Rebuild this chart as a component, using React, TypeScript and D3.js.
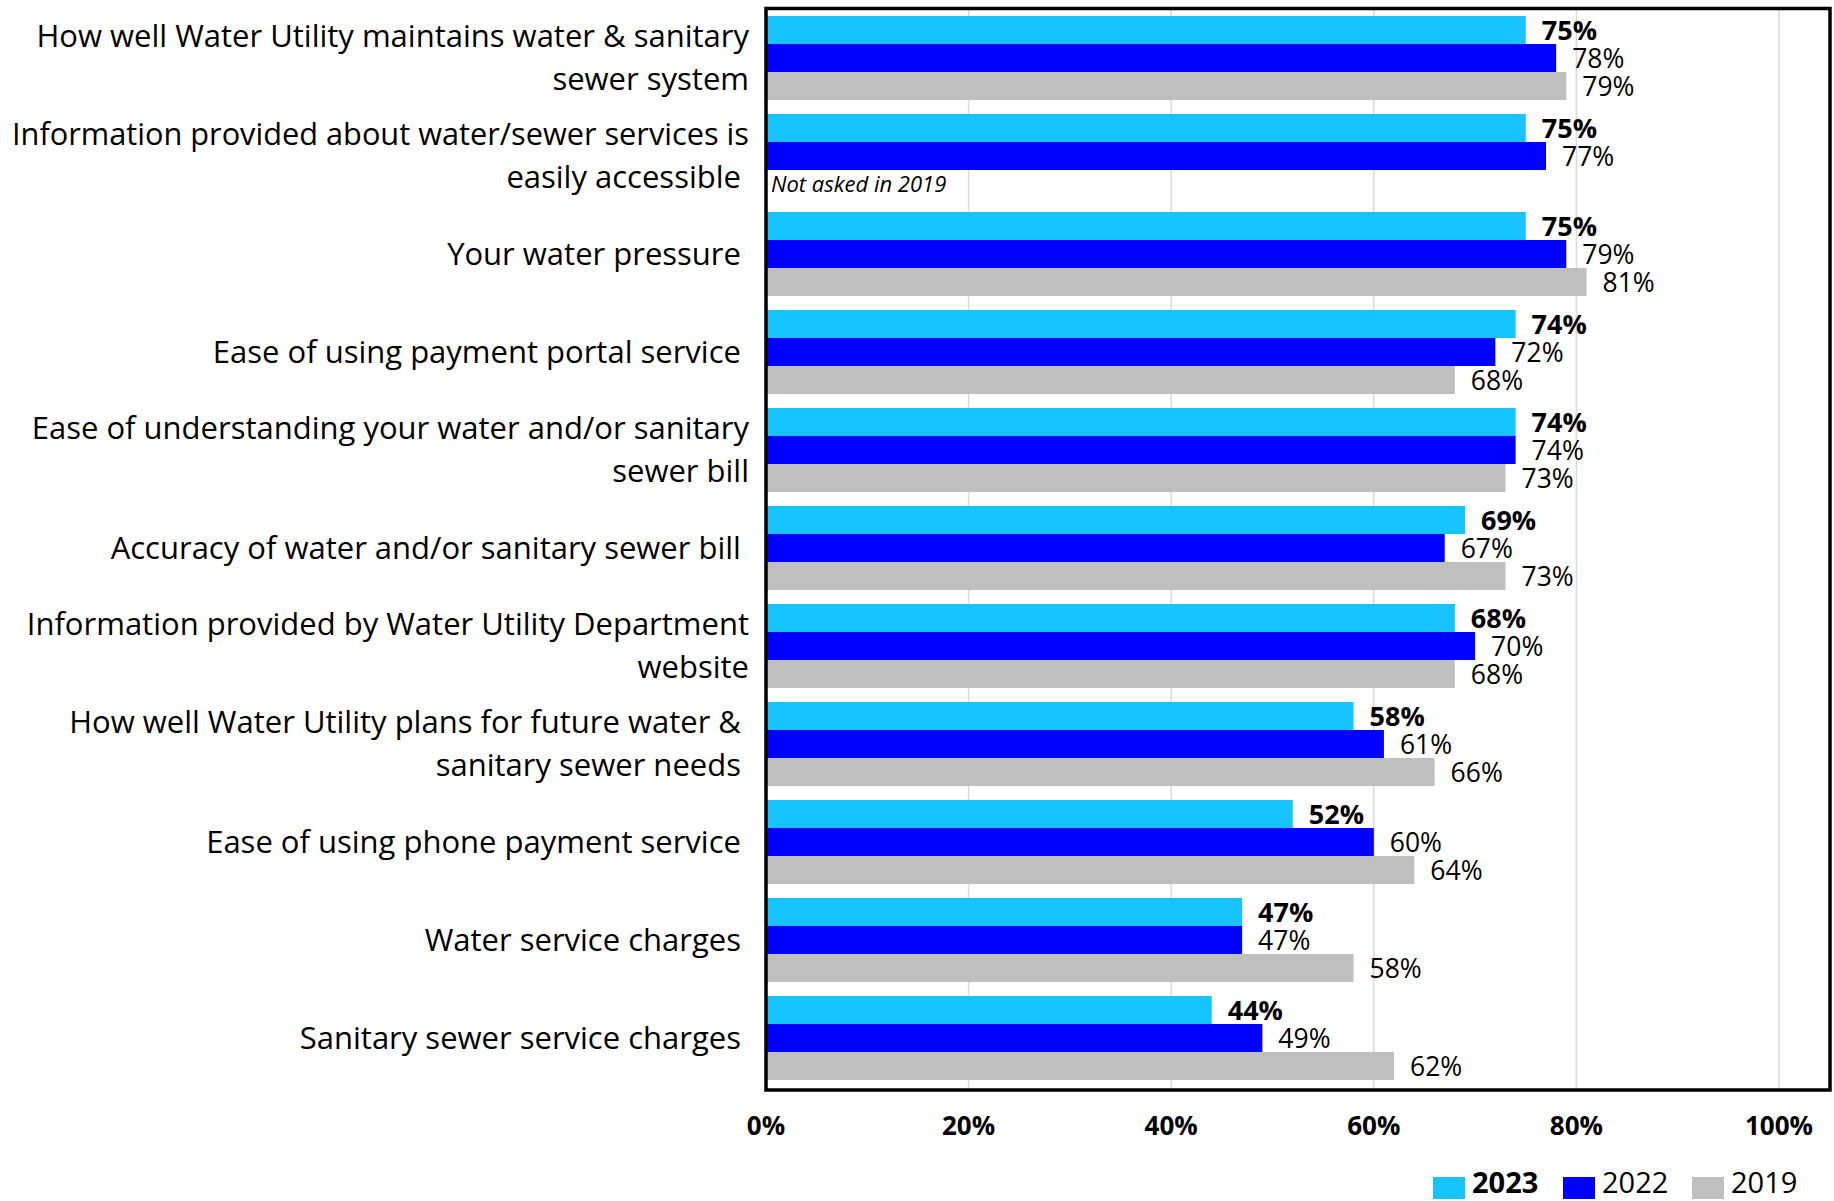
import React, { useLayoutEffect, useRef } from 'react';
import * as d3 from 'd3';

// ---------- data ----------
const categoryLines: string[][] = [
  ['How well Water Utility maintains water & sanitary', 'sewer system'],
  ['Information provided about water/sewer services is', 'easily accessible '],
  ['Your water pressure '],
  ['Ease of using payment portal service '],
  ['Ease of understanding your water and/or sanitary', 'sewer bill'],
  ['Accuracy of water and/or sanitary sewer bill '],
  ['Information provided by Water Utility Department', 'website'],
  ['How well Water Utility plans for future water & ', 'sanitary sewer needs '],
  ['Ease of using phone payment service '],
  ['Water service charges '],
  ['Sanitary sewer service charges '],
];
const seriesNames = ['2023', '2022', '2019'];
const values2023 = [75, 75, 75, 74, 74, 69, 68, 58, 52, 47, 44];
const values2022 = [78, 77, 79, 72, 74, 67, 70, 61, 60, 47, 49];
const values2019: (number | null)[] = [79, null, 81, 68, 73, 73, 68, 66, 64, 58, 62];
const seriesColors = ['#17C4FF', '#0000FF', '#BFBFBF'];
const tickValues = [0, 20, 40, 60, 80, 100];
const missingNote = 'Not asked in 2019';

// ---------- layout ----------
const W = 1834;
const H = 1201;
const x0 = 766;
const x100 = 1779;
const plotTop = 9;
const plotBottom = 1087;
const frameRight = 1830;
const frameBottom = 1090;
const labelRight = 749;
const labelMaxWidth = 737;
const legendX = [1433, 1563, 1692];
const FONT = "'Open Sans', 'Noto Sans', sans-serif";

export default function App() {
  const labelsRef = useRef<SVGGElement | null>(null);
  const series = [values2023, values2022, values2019];
  const x = d3.scaleLinear().domain([0, 100]).range([x0, x100]);
  const y = d3
    .scaleBand<number>()
    .domain(d3.range(categoryLines.length))
    .range([plotTop, plotBottom])
    .paddingInner(0.143)
    .paddingOuter(0.0715);
  const ys = d3
    .scaleBand<string>()
    .domain(seriesNames)
    .range([0, y.bandwidth()]);
  const lineH = 43;

  useLayoutEffect(() => {
    if (!labelsRef.current) return;
    d3.select(labelsRef.current)
      .selectAll<SVGTextElement, unknown>('text.cat')
      .each(function () {
        const len = this.getComputedTextLength();
        if (len > labelMaxWidth) {
          this.setAttribute('textLength', String(labelMaxWidth));
          this.setAttribute('lengthAdjust', 'spacingAndGlyphs');
        }
      });
  }, []);

  return (
    <svg
      width={W}
      height={H}
      style={{ position: 'absolute', left: 0, top: 0, background: '#fff' }}
      fontFamily={FONT}
    >
      {/* gridlines */}
      {tickValues.slice(1).map((t) => (
        <line
          key={'g' + t}
          x1={x(t)}
          x2={x(t)}
          y1={plotTop}
          y2={frameBottom - 2}
          stroke="#D9D9D9"
          strokeWidth={1.5}
        />
      ))}

      {/* bars */}
      {categoryLines.map((_, i) =>
        series.map((vals, s) => {
          const v = vals[i];
          if (v === null || v === undefined) return null;
          const by = (y(i) as number) + (ys(seriesNames[s]) as number);
          return (
            <rect
              key={`b${i}-${s}`}
              x={x(0)}
              y={by}
              width={x(v) - x(0)}
              height={ys.bandwidth()}
              fill={seriesColors[s]}
            />
          );
        })
      )}

      {/* value labels */}
      {categoryLines.map((_, i) =>
        series.map((vals, s) => {
          const v = vals[i];
          const by = (y(i) as number) + (ys(seriesNames[s]) as number) + ys.bandwidth() / 2;
          if (v === null || v === undefined) {
            return (
              <text
                key={`n${i}-${s}`}
                x={x(0) + 5}
                y={by}
                dy="0.35em"
                fontSize={22}
                fontStyle="italic"
                fill="#000"
              >
                {missingNote}
              </text>
            );
          }
          return (
            <text
              key={`l${i}-${s}`}
              x={x(v) + 16}
              y={by}
              dy="0.36em"
              fontSize={s === 0 ? 27 : 26.5}
              fontWeight={s === 0 ? 700 : 400}
              fill="#000"
            >
              {v}%
            </text>
          );
        })
      )}

      {/* frame */}
      <rect
        x={x0}
        y={8.5}
        width={frameRight - x0}
        height={frameBottom - 8.5}
        fill="none"
        stroke="#000"
        strokeWidth={3.5}
      />

      {/* category labels */}
      <g ref={labelsRef}>
        {categoryLines.map((lines, i) => {
          const cy = (y(i) as number) + y.bandwidth() / 2;
          const startY = cy - ((lines.length - 1) * lineH) / 2;
          return lines.map((ln, k) => (
            <text
              key={`c${i}-${k}`}
              className="cat"
              x={labelRight}
              y={startY + k * lineH}
              dy="0.35em"
              textAnchor="end"
              fontSize={31}
              fill="#000"
              style={{ whiteSpace: 'pre' }}
            >
              {ln}
            </text>
          ));
        })}
      </g>

      {/* x axis labels */}
      {tickValues.map((t) => (
        <text
          key={'t' + t}
          x={x(t)}
          y={1126}
          dy="0.35em"
          textAnchor="middle"
          fontSize={26}
          fontWeight={700}
          fill="#000"
        >
          {t}%
        </text>
      ))}

      {/* legend */}
      {seriesNames.map((name, s) => {
        const lx = legendX[s];
        return (
          <g key={'lg' + name}>
            <rect x={lx} y={1177} width={32} height={22} fill={seriesColors[s]} />
            <text
              x={lx + 39}
              y={1193}
              fontSize={29}
              fontWeight={s === 0 ? 700 : 400}
              fill="#000"
            >
              {name}
            </text>
          </g>
        );
      })}
    </svg>
  );
}
